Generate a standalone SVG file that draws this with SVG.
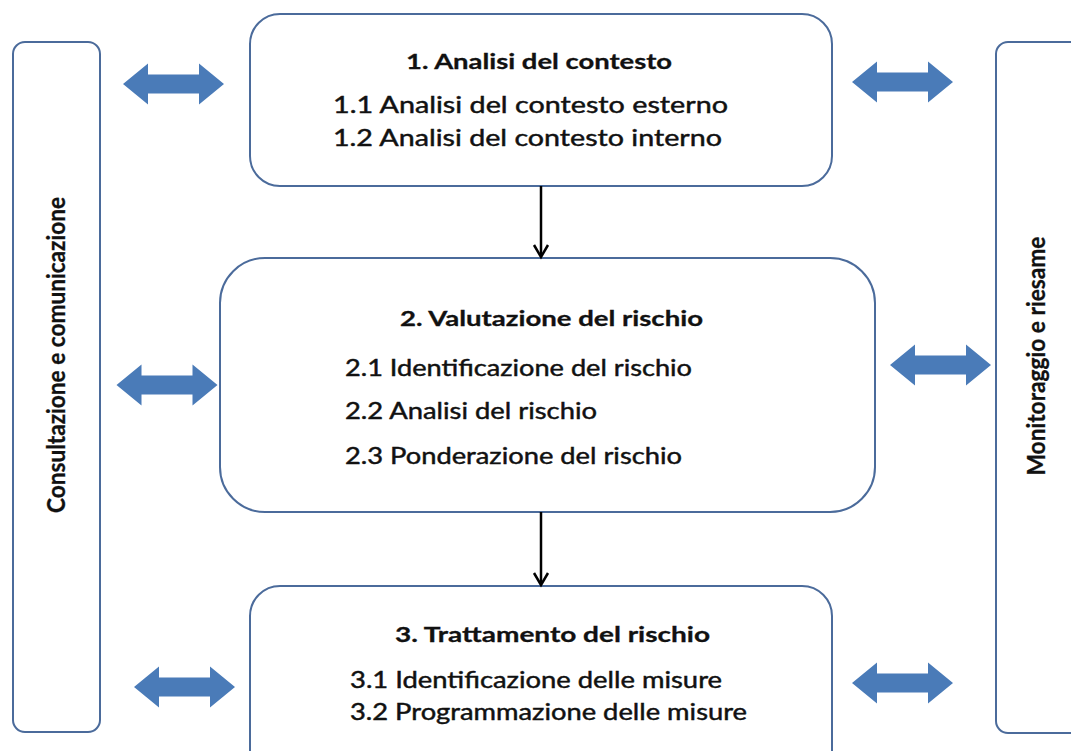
<svg xmlns="http://www.w3.org/2000/svg" xmlns:xlink="http://www.w3.org/1999/xlink" width="1071" height="751" viewBox="0 0 1071 751">
<style>
.box{fill:#fff;stroke:#4b6b9b;stroke-width:2}
.t{font-family:Lato,"Open Sans","Liberation Sans",sans-serif;fill:#111}
.h{font-weight:700;font-size:21px;stroke:#111;stroke-width:0.3}
.r{font-size:23px;stroke:#111;stroke-width:0.45}
.side{font-family:Lato,"Open Sans","Liberation Sans",sans-serif;font-weight:700;font-size:24px;fill:#111;stroke:#111;stroke-width:0.3}
.dbl{fill:#4a7bb8}
.flow{stroke:#000;stroke-width:2.5;fill:none}
</style>
<defs>
<path id="dblarrow" d="M-50.5,0 L-25.5,-20.5 L-25.5,-9.5 L25.5,-9.5 L25.5,-20.5 L50.5,0 L25.5,20.5 L25.5,9.5 L-25.5,9.5 L-25.5,20.5 Z"/>
</defs>
<rect width="1071" height="751" fill="#fff"/>

<g id="consultazione">
<rect class="box" x="13" y="42" width="87" height="690" rx="12"/>
<text class="side" transform="translate(65,355) rotate(-90)" text-anchor="middle" textLength="316" lengthAdjust="spacingAndGlyphs">Consultazione e comunicazione</text>
</g>

<g id="monitoraggio">
<rect class="box" x="996" y="42" width="95" height="691" rx="12"/>
<text class="side" transform="translate(1045,356) rotate(-90)" text-anchor="middle" textLength="239" lengthAdjust="spacingAndGlyphs">Monitoraggio e riesame</text>
</g>

<g id="analisi">
<rect class="box" x="250" y="14" width="582" height="172" rx="30"/>
<text class="t h" x="406" y="69" textLength="266" lengthAdjust="spacingAndGlyphs">1. Analisi del contesto</text>
<text class="t r" x="333" y="113" textLength="395" lengthAdjust="spacingAndGlyphs">1.1 Analisi del contesto esterno</text>
<text class="t r" x="333" y="146" textLength="389" lengthAdjust="spacingAndGlyphs">1.2 Analisi del contesto interno</text>
</g>

<g id="valutazione">
<rect class="box" x="220" y="258" width="655" height="254" rx="45"/>
<text class="t h" x="400" y="326" textLength="303" lengthAdjust="spacingAndGlyphs">2. Valutazione del rischio</text>
<text class="t r" x="345" y="376" textLength="347" lengthAdjust="spacingAndGlyphs">2.1 Identificazione del rischio</text>
<text class="t r" x="345" y="419" textLength="252" lengthAdjust="spacingAndGlyphs">2.2 Analisi del rischio</text>
<text class="t r" x="345" y="464" textLength="337" lengthAdjust="spacingAndGlyphs">2.3 Ponderazione del rischio</text>
</g>

<g id="trattamento">
<rect class="box" x="250" y="586" width="582" height="200" rx="30"/>
<text class="t h" x="395" y="642" textLength="315" lengthAdjust="spacingAndGlyphs">3. Trattamento del rischio</text>
<text class="t r" x="350" y="688" textLength="372" lengthAdjust="spacingAndGlyphs">3.1 Identificazione delle misure</text>
<text class="t r" x="350" y="720" textLength="397" lengthAdjust="spacingAndGlyphs">3.2 Programmazione delle misure</text>
</g>

<g id="connectors">
<line class="flow" x1="541" y1="186" x2="541" y2="256"/>
<polyline class="flow" points="534,245 541,257 548,245"/>
<line class="flow" x1="541" y1="512" x2="541" y2="584"/>
<polyline class="flow" points="534,573 541,585 548,573"/>
<use class="dbl" xlink:href="#dblarrow" href="#dblarrow" transform="translate(173.5,84)"/>
<use class="dbl" xlink:href="#dblarrow" href="#dblarrow" transform="translate(902.5,82)"/>
<use class="dbl" xlink:href="#dblarrow" href="#dblarrow" transform="translate(167,385)"/>
<use class="dbl" xlink:href="#dblarrow" href="#dblarrow" transform="translate(940.5,365)"/>
<use class="dbl" xlink:href="#dblarrow" href="#dblarrow" transform="translate(184.5,687)"/>
<use class="dbl" xlink:href="#dblarrow" href="#dblarrow" transform="translate(902.5,683)"/>
</g>
</svg>
